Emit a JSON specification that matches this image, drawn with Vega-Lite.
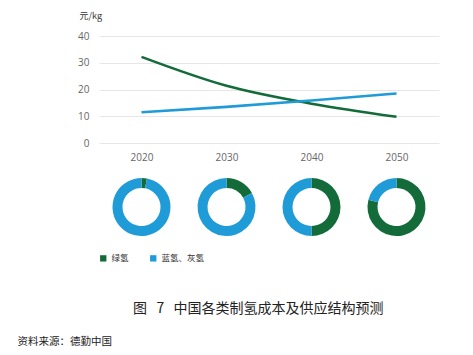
{
  "$schema": "https://vega.github.io/schema/vega-lite/v6.json",
  "background": "white",
  "padding": {"left": 17, "top": 11, "right": 5, "bottom": 8},
  "datasets": {
    "costs": [
      {"year": "2020", "type": "绿氢", "cost": 32.2},
      {"year": "2030", "type": "绿氢", "cost": 21.4},
      {"year": "2040", "type": "绿氢", "cost": 14.7},
      {"year": "2050", "type": "绿氢", "cost": 9.8},
      {"year": "2020", "type": "蓝氢、灰氢", "cost": 11.5},
      {"year": "2030", "type": "蓝氢、灰氢", "cost": 13.5},
      {"year": "2040", "type": "蓝氢、灰氢", "cost": 15.9},
      {"year": "2050", "type": "蓝氢、灰氢", "cost": 18.5}
    ],
    "shares": [
      {"year": "2020", "type": "绿氢", "share": 3},
      {"year": "2020", "type": "蓝氢、灰氢", "share": 97},
      {"year": "2030", "type": "绿氢", "share": 17},
      {"year": "2030", "type": "蓝氢、灰氢", "share": 83},
      {"year": "2040", "type": "绿氢", "share": 50},
      {"year": "2040", "type": "蓝氢、灰氢", "share": 50},
      {"year": "2050", "type": "绿氢", "share": 79},
      {"year": "2050", "type": "蓝氢、灰氢", "share": 21}
    ]
  },
  "title": {
    "text": "资料来源：德勤中国",
    "orient": "bottom",
    "anchor": "start",
    "dx": -60,
    "offset": 21,
    "fontSize": 10.5,
    "fontWeight": "normal",
    "color": "#222",
    "font": "Noto Sans CJK SC"
  },
  "resolve": {"scale": {"color": "independent"}, "legend": {"color": "independent"}},
  "vconcat": [
    {
      "title": {
        "text": "图\u00a0\u00a0\u00a07\u00a0\u00a0\u00a0中国各类制氢成本及供应结构预测",
        "orient": "bottom",
        "anchor": "middle",
        "offset": 39,
        "fontSize": 14,
        "fontWeight": "normal",
        "color": "#222",
        "font": "Noto Sans CJK SC"
      },
      "spacing": 15,
      "vconcat": [
        {
          "width": 340,
          "height": 107,
          "data": {"name": "costs"},
          "mark": {"type": "line", "strokeWidth": 2.6, "interpolate": "monotone"},
          "encoding": {
            "x": {
              "field": "year",
              "type": "ordinal",
              "scale": {"type": "point", "padding": 0.5},
              "axis": {"title": null, "grid": false, "labelAngle": 0, "labelPadding": 9}
            },
            "y": {
              "field": "cost",
              "type": "quantitative",
              "scale": {"domain": [0, 40]},
              "axis": {
                "values": [0, 10, 20, 30, 40],
                "title": "元/kg",
                "titleAngle": 0,
                "titleAlign": "left",
                "titleBaseline": "alphabetic",
                "titleX": -20,
                "titleY": -18,
                "titleFontSize": 9,
                "titleFontWeight": "normal",
                "titleColor": "#333",
                "titleFont": "Noto Sans CJK SC",
                "labelPadding": 10
              }
            },
            "color": {
              "field": "type",
              "type": "nominal",
              "scale": {"domain": ["绿氢", "蓝氢、灰氢"], "range": ["#146B3A", "#1F9BD7"]},
              "legend": {
                "orient": "bottom",
                "title": null,
                "symbolType": "square",
                "symbolSize": 40,
                "symbolStrokeWidth": 0,
                "labelFontSize": 8.5,
                "labelFont": "Noto Sans CJK SC",
                "labelColor": "#333",
                "columnPadding": 20,
                "offset": 17
              }
            }
          }
        },
        {
          "data": {"name": "shares"},
          "facet": {"column": {"field": "year", "type": "ordinal", "header": {"labels": false, "title": null}}},
          "spacing": 0,
          "spec": {
            "width": 85,
            "height": 60,
            "mark": {"type": "arc", "innerRadius": 19, "outerRadius": 29},
            "encoding": {
              "theta": {"field": "share", "type": "quantitative", "stack": true},
              "order": {"field": "type", "type": "nominal", "sort": "ascending"},
              "color": {
                "field": "type",
                "type": "nominal",
                "scale": {"domain": ["绿氢", "蓝氢、灰氢"], "range": ["#146B3A", "#1F9BD7"]}
              }
            }
          }
        }
      ]
    }
  ],
  "config": {
    "view": {"stroke": null},
    "font": "Open Sans",
    "axis": {
      "domain": false,
      "ticks": false,
      "labelColor": "#666",
      "labelFontSize": 10,
      "labelFont": "Open Sans",
      "gridColor": "#e6e6e6"
    }
  }
}
